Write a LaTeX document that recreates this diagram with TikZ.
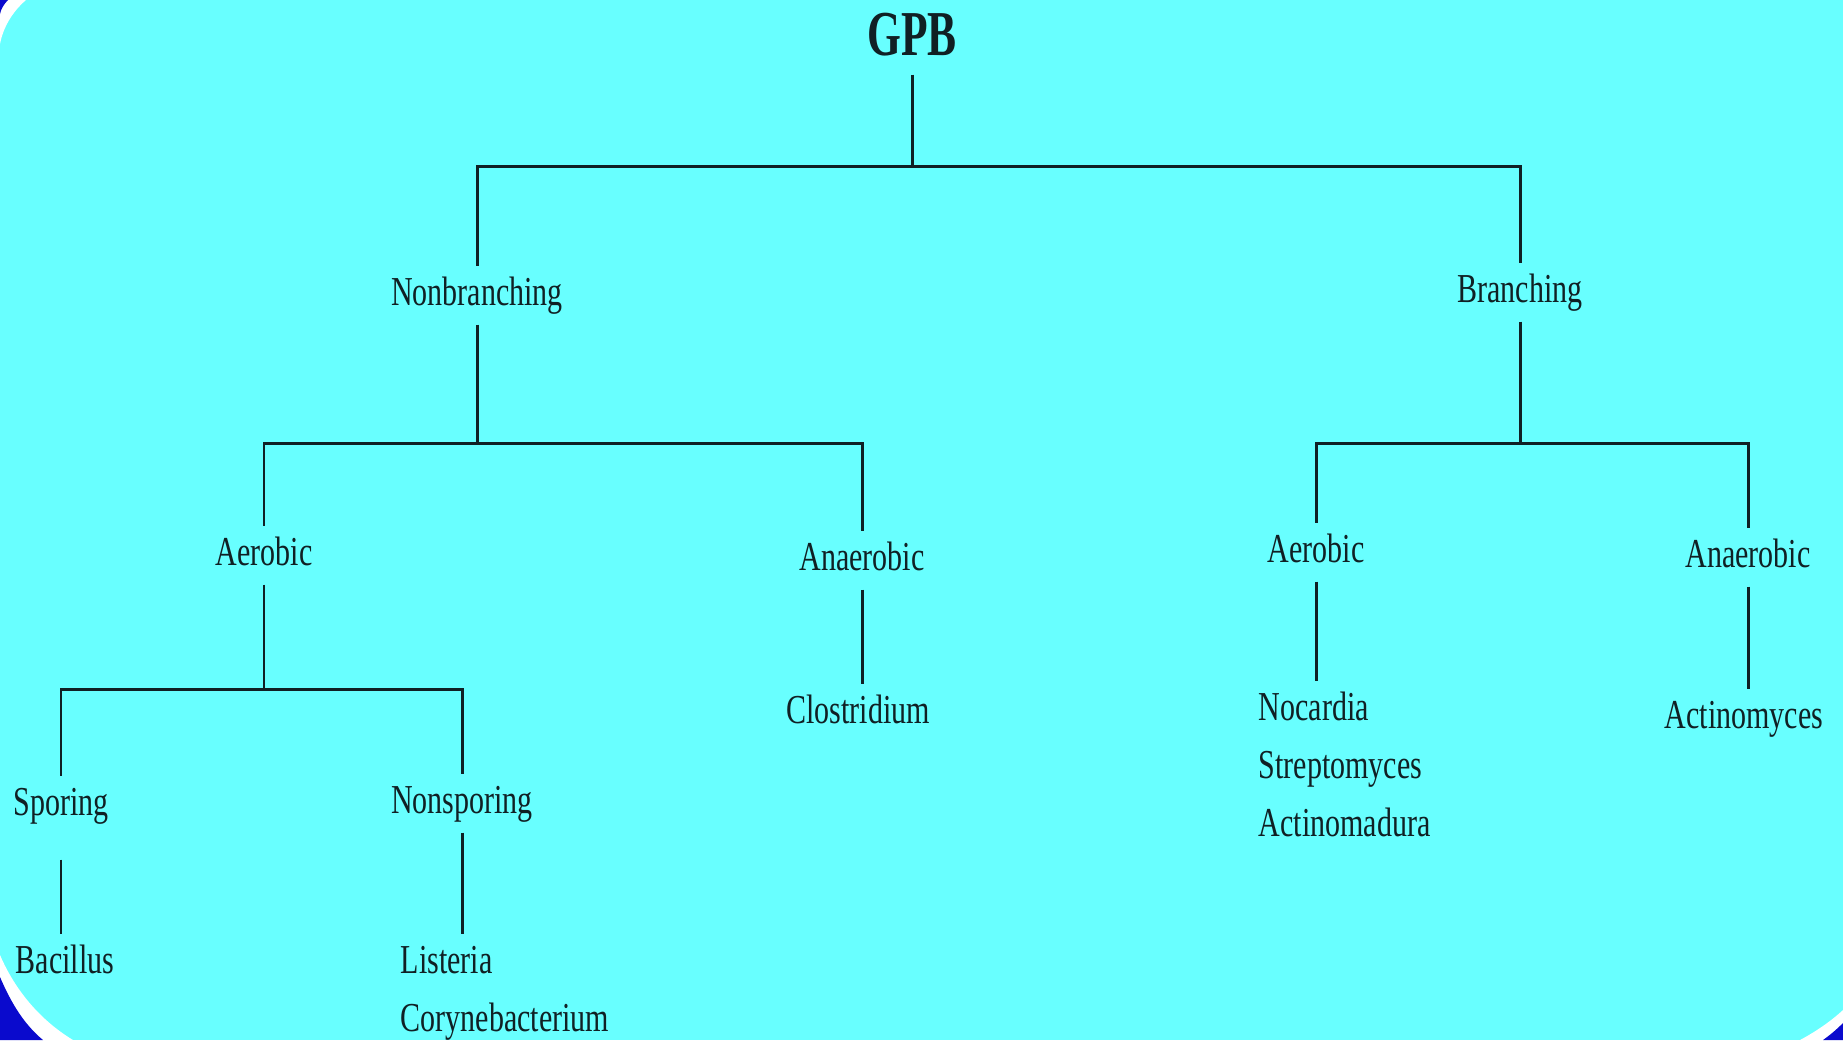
\documentclass[tikz,border=0pt]{standalone}
\usepackage{fontspec}
\usepackage{xcolor}
\usepackage{tikz}
\usetikzlibrary{positioning}
\newfontfamily\labelfont[FakeStretch=0.73]{Liberation Serif}
\newfontfamily\titlefont[FakeStretch=0.68]{Liberation Serif}
\definecolor{slidecyan}{RGB}{104,255,255}
\definecolor{slideblue}{RGB}{10,10,205}
\definecolor{ink}{RGB}{16,32,36}

\begin{document}
\begin{tikzpicture}[x=0.1mm, y=-0.1mm,
    every node/.style={font=\labelfont\fontsize{11.7}{14}\selectfont, text=ink},
    lbl/.style={inner xsep=0pt, inner ysep=1mm, text height=2.8mm, text depth=0.9mm},
    tree/.style={draw=ink, line width=0.85pt}]
   % Slide background (always first!)
   \useasboundingbox (0,0) rectangle (1843,1040);
   \fill[slidecyan] (0,0) rectangle (1843,1040);
    % Corners
    \fill[white] (0,0) -- (26,0) .. controls (12,12) and (3,28) .. (0,44) -- cycle;
    \fill[slideblue] (0,0) -- (8,0) .. controls (4,4) and (1,9) .. (0,14) -- cycle;
    \fill[white] (0,955) .. controls (15,990) and (40,1020) .. (73,1040) -- (0,1040) -- cycle;
    \fill[slideblue] (0,977) .. controls (12,1005) and (25,1025) .. (43,1040) -- (0,1040) -- cycle;
    \fill[white] (1843,1010) .. controls (1830,1022) and (1815,1032) .. (1800,1040) -- (1843,1040) -- cycle;
    \fill[slideblue] (1843,1023) .. controls (1836,1030) and (1830,1035) .. (1823,1040) -- (1843,1040) -- cycle;

    % Levels
    \node[lbl, anchor=base, font=\titlefont\bfseries\fontsize{18.2}{22}\selectfont] (gpb) at (912,55) {GPB};
    \node[lbl, anchor=base] (nonbr) at (477,305) {Nonbranching};
    \node[lbl, anchor=base] (branch) at (1520,302) {Branching};
    \node[lbl, anchor=base] (aerL) at (264,565) {Aerobic};
    \node[lbl, anchor=base] (anaerL) at (862,570) {Anaerobic};
    \node[lbl, anchor=base] (aerR) at (1316,562) {Aerobic};
    \node[lbl, anchor=base] (anaerR) at (1748,567) {Anaerobic};
    \node[lbl, anchor=base] (spor) at (61,815) {Sporing};
    \node[lbl, anchor=base] (nonsp) at (462,813) {Nonsporing};

    % Genera
    \node[lbl, anchor=base] (clos) at (858,723) {Clostridium};
    \node[lbl, anchor=base] (actm) at (1744,728) {Actinomyces};
    \node[lbl, anchor=base west] (noc) at (1258,720) {Nocardia};
    \node[lbl, below=0pt of noc.south west, anchor=north west] (strep) {Streptomyces};
    \node[lbl, below=0pt of strep.south west, anchor=north west] (actmad) {Actinomadura};
    \node[lbl, anchor=base west] (bac) at (15,973) {Bacillus};
    \node[lbl, anchor=base west] (list) at (400,973) {Listeria};
    \node[lbl, below=0pt of list.south west, anchor=north west] (cory) {Corynebacterium};

    % Bars
    \coordinate (bar0) at (0,166);
    \coordinate (bar1) at (0,443);
    \coordinate (bar2) at (0,689);

    % Branches
    \draw[tree] (gpb.south) -- (gpb.south |- bar0) -| (nonbr.north);
    \draw[tree] (gpb.south |- bar0) -| (branch.north);
    \draw[tree] (nonbr.south) -- (nonbr.south |- bar1) -| (aerL.north);
    \draw[tree] (nonbr.south |- bar1) -| (anaerL.north);
    \draw[tree] (branch.south) -- (branch.south |- bar1) -| (aerR.north);
    \draw[tree] (branch.south |- bar1) -| (anaerR.north);
    \draw[tree] (aerL.south) -- (aerL.south |- bar2) -| (spor.north);
    \draw[tree] (aerL.south |- bar2) -| (nonsp.north);
    \draw[tree] (anaerL.south) -- (anaerL.south |- clos.north);
    \draw[tree] (anaerR.south) -- (anaerR.south |- actm.north);
    \draw[tree] (aerR.south) -- (aerR.south |- noc.north);
    \draw[tree] ([yshift=-2.5mm]spor.south) -- (spor.south |- bac.north);
    \draw[tree] (nonsp.south) -- (nonsp.south |- list.north);
\end{tikzpicture}
\end{document}
